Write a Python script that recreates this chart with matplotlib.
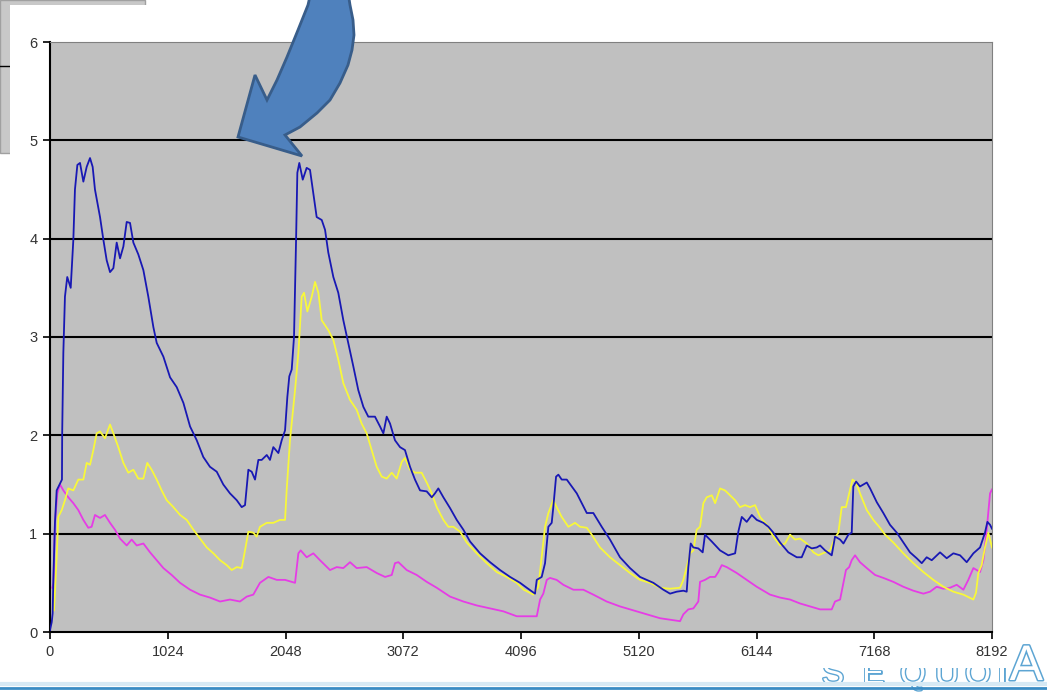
import matplotlib
matplotlib.use("Agg")
import matplotlib.pyplot as plt
from matplotlib.patches import Rectangle, Polygon
from matplotlib.lines import Line2D
import matplotlib.patheffects as pe

# chart values
blue_x = [0, 15, 23, 29, 43, 58, 87, 104, 106, 116, 130, 150, 180, 203, 217, 238, 261, 290, 319, 348,
          371, 391, 435, 464, 493, 522, 551, 580, 609, 638, 667, 696, 725, 768, 812, 855, 899, 928, 986,
          1044, 1102, 1160, 1218, 1276, 1333, 1391, 1450, 1507, 1565, 1624, 1667, 1696, 1725, 1754, 1783,
          1812, 1841, 1885, 1913, 1942, 1986, 2015, 2044, 2064, 2081, 2102, 2122, 2140, 2151, 2168, 2198,
          2232, 2261, 2290, 2319, 2363, 2392, 2420, 2464, 2507, 2551, 2594, 2638, 2681, 2725, 2768, 2826,
          2870, 2899, 2928, 2957, 3000, 3044, 3087, 3131, 3174, 3218, 3276, 3320, 3348, 3377, 3421, 3479,
          3537, 3595, 3653, 3740, 3827, 3914, 4001, 4088, 4146, 4218, 4233, 4276, 4305, 4334, 4363, 4377,
          4401, 4421, 4450, 4494, 4581, 4668, 4725, 4798, 4870, 4957, 5044, 5131, 5247, 5334, 5392, 5450,
          5508, 5537, 5551, 5572, 5595, 5638, 5676, 5696, 5755, 5827, 5899, 5958, 5986, 6016, 6059, 6103,
          6146, 6204, 6247, 6291, 6349, 6421, 6494, 6537, 6581, 6624, 6668, 6697, 6740, 6798, 6827, 6871,
          6900, 6943, 6972, 6986, 7010, 7044, 7103, 7132, 7190, 7247, 7305, 7364, 7421, 7479, 7537, 7581,
          7624, 7668, 7740, 7798, 7856, 7914, 7972, 8030, 8088, 8131, 8152, 8175, 8192]
blue_y = [0.02, 0.1, 0.19, 0.53, 1.11, 1.44, 1.51, 1.55, 2.02, 2.84, 3.41, 3.61, 3.50, 3.99, 4.50, 4.75,
          4.77, 4.58, 4.73, 4.82, 4.73, 4.50, 4.22, 3.99, 3.78, 3.66, 3.70, 3.96, 3.80, 3.92, 4.17, 4.16,
          3.96, 3.84, 3.68, 3.41, 3.10, 2.94, 2.80, 2.59, 2.49, 2.33, 2.09, 1.95, 1.78, 1.68, 1.63, 1.50,
          1.41, 1.34, 1.27, 1.29, 1.65, 1.63, 1.55, 1.75, 1.75, 1.80, 1.75, 1.88, 1.82, 1.95, 2.05, 2.39,
          2.60, 2.67, 3.00, 3.99, 4.67, 4.77, 4.60, 4.72, 4.70, 4.46, 4.22, 4.19, 4.09, 3.86, 3.61, 3.45,
          3.17, 2.94, 2.70, 2.46, 2.29, 2.19, 2.19, 2.09, 2.02, 2.19, 2.12, 1.95, 1.88, 1.85, 1.68, 1.55,
          1.44, 1.43, 1.37, 1.41, 1.46, 1.37, 1.26, 1.14, 1.04, 0.92, 0.80, 0.71, 0.63, 0.56, 0.50, 0.45,
          0.39, 0.53, 0.56, 0.70, 1.07, 1.11, 1.27, 1.58, 1.60, 1.55, 1.55, 1.41, 1.21, 1.21, 1.07, 0.94,
          0.76, 0.65, 0.56, 0.50, 0.43, 0.39, 0.41, 0.42, 0.41, 0.66, 0.90, 0.86, 0.85, 0.81, 0.99, 0.92,
          0.83, 0.78, 0.80, 1.02, 1.17, 1.12, 1.19, 1.14, 1.11, 1.07, 1.01, 0.91, 0.81, 0.76, 0.76, 0.88,
          0.85, 0.86, 0.88, 0.83, 0.78, 0.97, 0.94, 0.90, 0.99, 1.01, 1.48, 1.53, 1.48, 1.52, 1.46, 1.32,
          1.21, 1.09, 1.01, 0.91, 0.81, 0.75, 0.70, 0.76, 0.73, 0.81, 0.75, 0.80, 0.78, 0.71, 0.80, 0.86,
          1.01, 1.12, 1.09, 1.05]

yellow_x = [35, 58, 72, 102, 130, 159, 203, 246, 290, 319, 348, 377, 406, 435, 478, 522, 551, 594, 638,
            681, 725, 768, 812, 846, 884, 928, 971, 1015, 1073, 1131, 1189, 1247, 1305, 1363, 1421, 1479,
            1537, 1580, 1624, 1667, 1696, 1725, 1768, 1797, 1826, 1885, 1942, 2000, 2044, 2058, 2087, 2131,
            2160, 2189, 2209, 2238, 2276, 2305, 2334, 2363, 2420, 2464, 2507, 2551, 2609, 2667, 2710, 2754,
            2797, 2841, 2885, 2928, 2972, 3015, 3059, 3087, 3131, 3174, 3232, 3276, 3320, 3363, 3421, 3464,
            3508, 3566, 3624, 3711, 3798, 3885, 3972, 4059, 4120, 4204, 4247, 4276, 4305, 4334, 4377, 4406,
            4450, 4508, 4566, 4610, 4668, 4711, 4783, 4870, 4957, 5044, 5131, 5218, 5305, 5392, 5479, 5508,
            5537, 5566, 5595, 5624, 5653, 5682, 5711, 5755, 5784, 5827, 5870, 5914, 5958, 6001, 6045, 6088,
            6132, 6175, 6233, 6291, 6349, 6392, 6436, 6479, 6523, 6581, 6639, 6682, 6740, 6784, 6827, 6856,
            6885, 6922, 6950, 6979, 7010, 7044, 7103, 7160, 7218, 7262, 7334, 7421, 7508, 7595, 7682, 7769,
            7856, 7943, 8030, 8053, 8073, 8102, 8131, 8160, 8192]
yellow_y = [0.22, 0.76, 1.17, 1.24, 1.34, 1.46, 1.44, 1.55, 1.55, 1.72, 1.70, 1.85, 2.02, 2.04, 1.97, 2.11,
            2.02, 1.88, 1.72, 1.62, 1.65, 1.56, 1.56, 1.72, 1.65, 1.55, 1.44, 1.34, 1.27, 1.19, 1.14, 1.04,
            0.95, 0.86, 0.80, 0.73, 0.68, 0.63, 0.66, 0.65, 0.83, 1.02, 1.01, 0.97, 1.07, 1.11, 1.11, 1.14,
            1.14, 1.44, 1.95, 2.46, 2.84, 3.41, 3.45, 3.26, 3.41, 3.56, 3.45, 3.17, 3.07, 2.97, 2.77, 2.53,
            2.36, 2.26, 2.12, 2.02, 1.85, 1.68, 1.58, 1.56, 1.62, 1.56, 1.73, 1.77, 1.65, 1.62, 1.62, 1.52,
            1.41, 1.27, 1.14, 1.07, 1.07, 1.02, 0.91, 0.80, 0.70, 0.61, 0.56, 0.50, 0.43, 0.38, 0.46, 0.76,
            1.07, 1.21, 1.34, 1.27, 1.17, 1.07, 1.11, 1.07, 1.06, 0.99, 0.86, 0.76, 0.68, 0.60, 0.53, 0.50,
            0.45, 0.44, 0.45, 0.53, 0.66, 0.80, 0.83, 1.04, 1.07, 1.31, 1.37, 1.39, 1.31, 1.46, 1.44, 1.39,
            1.34, 1.27, 1.29, 1.27, 1.29, 1.17, 1.09, 0.97, 0.88, 0.90, 0.99, 0.94, 0.95, 0.90, 0.81, 0.78,
            0.81, 0.83, 0.96, 1.01, 1.27, 1.27, 1.41, 1.55, 1.52, 1.41, 1.24, 1.14, 1.06, 0.99, 0.91, 0.80,
            0.70, 0.61, 0.53, 0.46, 0.41, 0.38, 0.33, 0.40, 0.60, 0.68, 0.86, 1.01, 0.86]

magenta_x = [20, 30, 43, 64, 87, 116, 159, 203, 246, 290, 333, 362, 391, 435, 478, 522, 565, 609, 667, 710,
             754, 812, 870, 928, 986, 1058, 1131, 1218, 1305, 1391, 1479, 1565, 1652, 1711, 1768, 1826, 1899,
             1972, 2044, 2131, 2160, 2180, 2232, 2290, 2348, 2435, 2493, 2551, 2609, 2667, 2754, 2841, 2914,
             2972, 3000, 3030, 3102, 3189, 3276, 3363, 3479, 3595, 3711, 3827, 3943, 4059, 4233, 4262, 4290,
             4320, 4348, 4406, 4464, 4551, 4638, 4725, 4841, 4957, 5073, 5189, 5305, 5421, 5479, 5508, 5551,
             5595, 5638, 5653, 5696, 5740, 5784, 5812, 5842, 5885, 5972, 6059, 6146, 6262, 6349, 6436, 6523,
             6610, 6697, 6798, 6827, 6871, 6900, 6922, 6950, 6972, 7001, 7044, 7103, 7175, 7247, 7334, 7421,
             7508, 7595, 7653, 7711, 7769, 7827, 7885, 7943, 7986, 8030, 8088, 8117, 8146, 8175, 8192]
magenta_y = [0.45, 0.50, 1.11, 1.41, 1.50, 1.44, 1.37, 1.31, 1.24, 1.14, 1.06, 1.07, 1.19, 1.16, 1.19, 1.11,
             1.04, 0.95, 0.88, 0.94, 0.88, 0.90, 0.81, 0.73, 0.65, 0.58, 0.50, 0.43, 0.38, 0.35, 0.31, 0.33,
             0.31, 0.36, 0.38, 0.50, 0.56, 0.53, 0.53, 0.50, 0.80, 0.83, 0.76, 0.80, 0.73, 0.63, 0.66, 0.65,
             0.71, 0.65, 0.66, 0.60, 0.56, 0.58, 0.70, 0.71, 0.63, 0.58, 0.51, 0.45, 0.36, 0.31, 0.27, 0.24,
             0.21, 0.16, 0.16, 0.33, 0.39, 0.53, 0.55, 0.53, 0.48, 0.43, 0.43, 0.38, 0.31, 0.26, 0.22, 0.18,
             0.14, 0.12, 0.11, 0.18, 0.23, 0.24, 0.31, 0.51, 0.53, 0.56, 0.56, 0.61, 0.68, 0.66, 0.60, 0.53,
             0.46, 0.38, 0.35, 0.33, 0.29, 0.26, 0.23, 0.23, 0.31, 0.33, 0.50, 0.63, 0.66, 0.73, 0.78, 0.71,
             0.65, 0.58, 0.55, 0.51, 0.46, 0.42, 0.39, 0.41, 0.46, 0.44, 0.45, 0.48, 0.43, 0.53, 0.65, 0.61,
             0.73, 1.04, 1.41, 1.45]

x_ticks = [0, 1024, 2048, 3072, 4096, 5120, 6144, 7168, 8192]
y_ticks = [0, 1, 2, 3, 4, 5, 6]

W, H = 1047, 693
plt.rcParams['font.family'] = ['Liberation Sans', 'DejaVu Sans']


def px(x, y):
    # pixel position (from top-left) -> figure fraction
    return (x / W, 1 - y / H)


fig = plt.figure(figsize=(W / 100, H / 100), dpi=100)
fig.patch.set_facecolor('white')

# slide furniture behind the chart
fig.add_artist(Rectangle(px(0, 153), 145 / W, 153 / H, transform=fig.transFigure,
                         facecolor='#C8C8C8', edgecolor='#A0A0A0', lw=1, zorder=-5))
fig.add_artist(Line2D([0, 145 / W], [1 - 66 / H] * 2, transform=fig.transFigure,
                      color='black', lw=1, zorder=-4))

# logo, mostly tucked behind the chart panel
logo_color = '#5DA5D3'
for letter, cx in zip("SEQUOI", [833, 873, 913, 947, 978, 1002]):
    t = fig.text(cx / W, 1 - 684 / H, letter, ha='center', va='baseline', fontsize=24,
                 color='white', zorder=-3)
    t.set_path_effects([pe.withStroke(linewidth=2, foreground=logo_color)])
t = fig.text(1043 / W, 1 - 680 / H, 'A', ha='right', va='baseline', fontsize=36,
             color='white', zorder=-3)
t.set_path_effects([pe.withStroke(linewidth=2.2, foreground=logo_color)])

fig.add_artist(Rectangle(px(10, 668), 1002 / W, 663 / H, transform=fig.transFigure,
                         facecolor='white', edgecolor='none', zorder=-2))
fig.add_artist(Line2D([0, 1], [1 - 684 / H] * 2, transform=fig.transFigure,
                      color='#D6E9F4', lw=3, zorder=-1))
fig.add_artist(Line2D([0, 1], [1 - 688 / H] * 2, transform=fig.transFigure,
                      color='#3A8CC4', lw=2, zorder=-1))

ax = fig.add_axes([50 / W, 61 / H, 942 / W, 590 / H])
ax.set_facecolor('#C0C0C0')

for yv in y_ticks[1:-1]:
    ax.axhline(yv, color='black', lw=1.5, zorder=1)

ax.plot(magenta_x, magenta_y, color='#E63CE6', lw=1.3, zorder=2)
ax.plot(yellow_x, yellow_y, color='#F8F83A', lw=1.3, zorder=3)
ax.plot(blue_x, blue_y, color='#1818B4', lw=1.3, zorder=4)

ax.set_xlim(0, 8192)
ax.set_ylim(0, 6)
ax.set_xticks(x_ticks)
ax.set_yticks(y_ticks)
ax.tick_params(direction='out', length=5, width=1.2, color='black',
               labelsize=10.5, labelcolor='#333333', pad=4)
ax.spines['left'].set_color('black')
ax.spines['left'].set_linewidth(1.5)
ax.spines['bottom'].set_color('black')
ax.spines['bottom'].set_linewidth(1.5)
ax.spines['top'].set_color('#808080')
ax.spines['right'].set_color('#808080')

# big block arrow pointing at the second peak
arrow_pts = [(238, 137), (255, 75), (267, 100), (277, 80), (287, 57), (298, 30), (308, 5), (311, -8),
             (348, -8), (350, 5), (353, 20), (354, 35), (352, 50), (348, 65), (340, 83), (330, 100),
             (317, 113), (300, 127), (285, 135), (302, 156)]
fig.add_artist(Polygon([px(x, y) for x, y in arrow_pts], closed=True, transform=fig.transFigure,
                       facecolor='#4F81BD', edgecolor='#385D8A', lw=2, zorder=5))

fig.savefig('out.png', dpi=100)
